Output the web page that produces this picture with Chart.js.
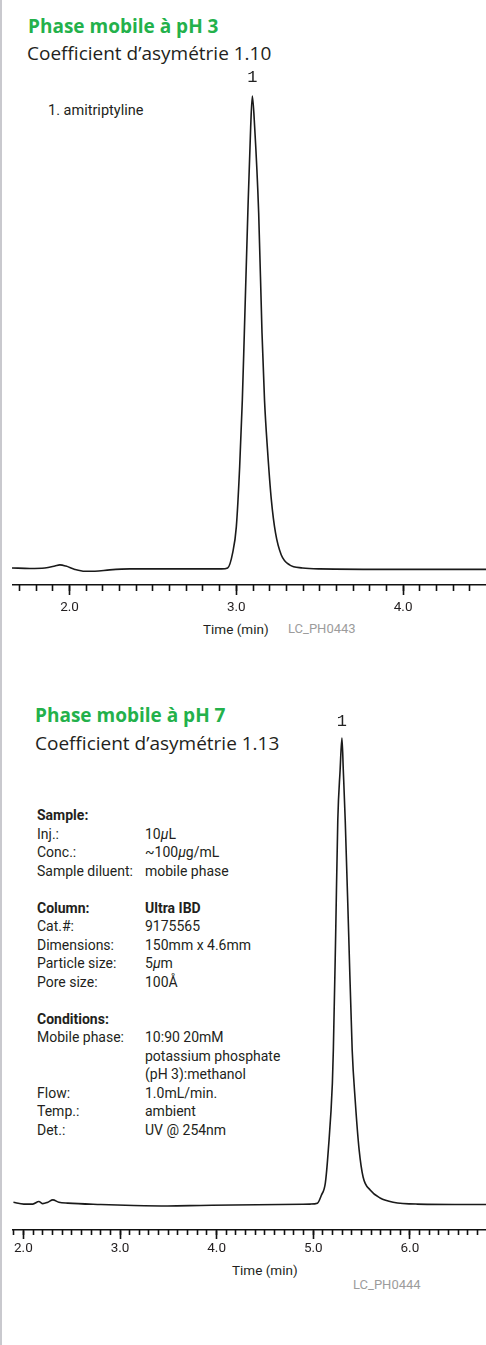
<!DOCTYPE html>
<html>
<head>
<meta charset="utf-8">
<script src="https://cdn.jsdelivr.net/npm/chart.js@4/dist/chart.umd.min.js"></script>
<style>
  html, body { margin: 0; padding: 0; background: #fff; }
  body { width: 486px; height: 1345px; position: relative; overflow: hidden; }
  .edge { position: absolute; left: 0; top: 0; width: 2px; height: 1345px; background: #c9c9ce; }
  .t { position: absolute; white-space: nowrap; line-height: 20px; color: #231f20; }
  .green { color: #23b14b; font: bold 19px "Open Sans", sans-serif; }
  .sub { font: 19px "Open Sans", sans-serif; }
  .cond { font: 14.5px Roboto, sans-serif; }
  .small { font: 13.5px Roboto, sans-serif; }
  .code { font: 13px Roboto, sans-serif; color: #9c9c9c; }
  .info { position: absolute; left: 37px; top: 806px; font: 14px Roboto, sans-serif; color: #231f20;
          line-height: 18.5px; display: grid; grid-template-columns: 108px auto; }
  .info b { font-weight: bold; }
  .info div { height: 18.5px; white-space: nowrap; }
  canvas { position: absolute; }
</style>
</head>
<body>
<div class="edge"></div>

<div class="t green" style="left:28px; top:13px;">Phase mobile à pH 3</div>
<div class="t sub" style="left:27px; top:40px;">Coefficient d’asymétrie 1.10</div>
<div class="t cond" style="left:48px; top:102px;">1. amitriptyline</div>
<div class="t small" style="left:203px; top:621px;">Time (min)</div>
<div class="t code" style="left:288px; top:621px;">LC_PH0443</div>
<canvas id="chart1" width="474" height="565" style="left:12px; top:60px;"></canvas>

<div class="t green" style="left:35px; top:702px;">Phase mobile à pH 7</div>
<div class="t sub" style="left:35px; top:730px;">Coefficient d’asymétrie 1.13</div>

<div class="info">
  <div><b>Sample:</b></div><div></div>
  <div>Inj.:</div><div>10<i>µ</i>L</div>
  <div>Conc.:</div><div>~100<i>µ</i>g/mL</div>
  <div>Sample diluent:</div><div>mobile phase</div>
  <div></div><div></div>
  <div><b>Column:</b></div><div><b>Ultra IBD</b></div>
  <div>Cat.#:</div><div>9175565</div>
  <div>Dimensions:</div><div>150mm x 4.6mm</div>
  <div>Particle size:</div><div>5<i>µ</i>m</div>
  <div>Pore size:</div><div>100Å</div>
  <div></div><div></div>
  <div><b>Conditions:</b></div><div></div>
  <div>Mobile phase:</div><div>10:90 20mM</div>
  <div></div><div>potassium phosphate</div>
  <div></div><div>(pH 3):methanol</div>
  <div>Flow:</div><div>1.0mL/min.</div>
  <div>Temp.:</div><div>ambient</div>
  <div>Det.:</div><div>UV @ 254nm</div>
</div>

<div class="t small" style="left:232px; top:1262px;">Time (min)</div>
<div class="t code" style="left:353px; top:1277px;">LC_PH0444</div>
<canvas id="chart2" width="474" height="570" style="left:12px; top:700px;"></canvas>

<script>
// chromatogram at pH 3 (time in min, relative detector response)
const time1 = [1.655, 1.762, 1.852, 1.912, 1.942, 1.978, 2.032, 2.092, 2.152, 2.241, 2.361, 2.541,
  2.780, 2.912, 2.948, 2.978, 3.000, 3.020, 3.036, 3.048, 3.069, 3.086, 3.096, 3.110,
  3.134, 3.154, 3.169, 3.187, 3.210, 3.235, 3.269, 3.319, 3.397, 3.499, 3.978, 4.497];
const signal1 = [0.2, 0.1, 0.2, 0.6, 0.85, 0.6, -0.1, -0.5, -0.5, -0.2, 0, 0,
  0, 0, 0.2, 3.4, 8.9, 21.6, 35.7, 49.9, 75.3, 93.4, 100, 93.4,
  75.3, 49.9, 35.7, 25.2, 14.6, 7.6, 3.0, 0.85, 0.2, 0, -0.1, -0.1];

// chromatogram at pH 7
const time2 = [1.895, 2.005, 2.098, 2.160, 2.201, 2.253, 2.305, 2.367, 2.460, 2.801, 3.142, 3.493,
  3.834, 4.175, 4.660, 4.970, 5.043, 5.084, 5.125, 5.156, 5.198, 5.208, 5.232, 5.254, 5.278,
  5.297, 5.311, 5.331, 5.367, 5.403, 5.434, 5.475, 5.516, 5.589, 5.692, 5.827, 6.073, 6.788];
const signal2 = [0.6, 0.2, 0.2, 0.75, 0.3, 0.6, 1.1, 0.6, 0.4, 0.1, -0.1, -0.2,
  -0.1, 0, 0.1, 0.2, 0.4, 2.1, 4.7, 11.8, 26.1, 33.2, 57.8, 82.4, 93.1,
  100, 93.1, 82.4, 57.8, 33.2, 22.5, 11.8, 6.0, 3.2, 1.5, 0.6, 0.2, 0.1];

const peakName = "1";

// draws the peak number above the highest point
const peakLabel = {
  id: "peakLabel",
  afterDatasetsDraw(chart, args, opts) {
    const { ctx } = chart;
    const xs = chart.scales.x, ys = chart.scales.y;
    const d = chart.data.datasets[0].data;
    let top = d[0];
    d.forEach(p => { if (p.y > top.y) top = p; });
    ctx.save();
    ctx.font = '17px "Liberation Mono", monospace';
    ctx.fillStyle = "#222";
    ctx.textAlign = "center";
    ctx.textBaseline = "middle";
    ctx.fillText(peakName, xs.getPixelForValue(top.x), ys.getPixelForValue(top.y) - opts.gap);
    ctx.restore();
  }
};

function makeChart(id, times, signal, xmin, xmax, ymin, ymax, minorLen, majorLen, pad, gap) {
  const pts = times.map((t, i) => ({ x: t, y: signal[i] }));
  return new Chart(document.getElementById(id), {
    type: "line",
    data: {
      datasets: [{
        data: pts,
        borderColor: "#1a1a1a",
        borderWidth: 1.6,
        pointRadius: 0,
        cubicInterpolationMode: "monotone",
        fill: false,
        xAxisID: "x",
      }]
    },
    options: {
      responsive: false,
      animation: false,
      layout: { padding: { top: 20, left: 0, right: 0, bottom: 0 } },
      plugins: { legend: { display: false }, tooltip: { enabled: false }, peakLabel: { gap: gap } },
      scales: {
        // minor ticks every 0.1 min, no labels
        x: {
          type: "linear", position: "bottom", weight: 0,
          min: xmin, max: xmax,
          border: { display: false },
          grid: { drawOnChartArea: false, tickLength: minorLen, tickWidth: 1.6, tickColor: "#111" },
          ticks: { display: false, stepSize: 0.1, includeBounds: false, autoSkip: false },
          afterFit: (s) => { s.height = 0; },
        },
        // major ticks every 1 min with labels
        xMajor: {
          type: "linear", position: "bottom", weight: 1,
          min: xmin, max: xmax,
          border: { display: true, color: "#111", width: 1.6 },
          grid: { drawOnChartArea: false, tickLength: majorLen, tickWidth: 1.6, tickColor: "#111" },
          ticks: {
            stepSize: 1, includeBounds: false, autoSkip: false, padding: pad, maxRotation: 0,
            color: "#231f20", font: { family: "Roboto", size: 13.5 },
            callback: (v) => v.toFixed(1),
          },
          afterFit: (s) => { s.height = 40; },
        },
        y: { display: false, min: ymin, max: ymax },
      }
    },
    plugins: [peakLabel]
  });
}

makeChart("chart1", time1, signal1, 1.655, 4.497, -3.4, 103.4, 6, 10, 5, 19);
makeChart("chart2", time2, signal2, 1.895, 6.788, -5.35, 103.85, 5, 9, 2, 16);
</script>
</body>
</html>
